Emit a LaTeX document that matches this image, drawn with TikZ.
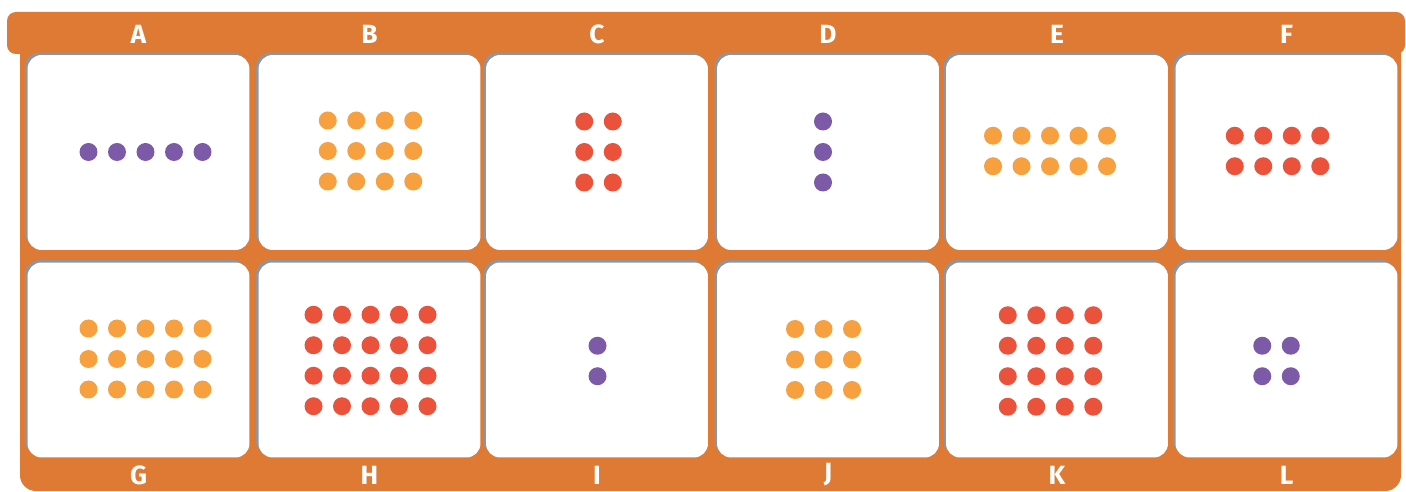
\documentclass[tikz,border=0pt]{standalone}
\usepackage{fontspec}
\setsansfont{Fira Sans}
\usepackage{xcolor}
\usepackage{tikz}
\usetikzlibrary{positioning}
\definecolor{boardorange}{RGB}{222,122,52}
\definecolor{tileshade}{RGB}{140,150,160}
\definecolor{dotpurple}{RGB}{124,90,168}
\definecolor{dotorange}{RGB}{246,160,64}
\definecolor{dotred}{RGB}{234,82,60}

\begin{document}
\begin{tikzpicture}[
        x=0.02cm, y=-0.02cm,
        tile/.style={rectangle, rounded corners=8pt, fill=white, minimum width=4.44cm, minimum height=3.9cm,
            preaction={fill=tileshade, transform canvas={shift={(-1.4pt,1.4pt)}}}},
        letter/.style={text=white, font=\sffamily\bfseries\fontsize{15}{18}\selectfont, inner sep=0pt},
        counter/.style={fill=#1}
    ]
    \useasboundingbox (0,0) rectangle (1406,492);

    % Board
    \fill[boardorange, rounded corners=9pt] (20,30) rectangle (1401,491);
    \fill[boardorange, rounded corners=5pt] (7,12) rectangle (1405,54);

    % Tiles and letters
    \foreach \up/\down/\cx in {A/G/138.5, B/H/369.5, C/I/597, D/J/828, E/K/1057, F/L/1286.5} {
        \node[tile] (tile\up) at (\cx,152.5) {};
        \node[tile] (tile\down) at (\cx,360) {};
        \node[letter] (lbl\up) at (\cx,34) {\up};
        \node[letter] (lbl\down) at (\cx,475) {\down};
    }

    % Counters
    \foreach \cx/\cy/\nc/\nr/\col in {145.5/152/5/1/dotpurple, 370.5/151/4/3/dotorange, 598.5/152/2/3/dotred,
            823/152/1/3/dotpurple, 1050/151/5/2/dotorange, 1277.5/151/4/2/dotred,
            145.5/359/5/3/dotorange, 370.5/360.5/5/4/dotred, 597.5/361/1/2/dotpurple,
            823.5/359.5/3/3/dotorange, 1050.5/361/4/4/dotred, 1276.5/361/2/2/dotpurple} {
        \foreach \i in {1,...,\nc} {
            \foreach \j in {1,...,\nr} {
                \fill[counter=\col] ({\cx+(\i-(\nc+1)/2)*28.5},{\cy+(\j-(\nr+1)/2)*30.5}) circle[radius=0.18cm];
            }
        }
    }

\end{tikzpicture}
\end{document}
